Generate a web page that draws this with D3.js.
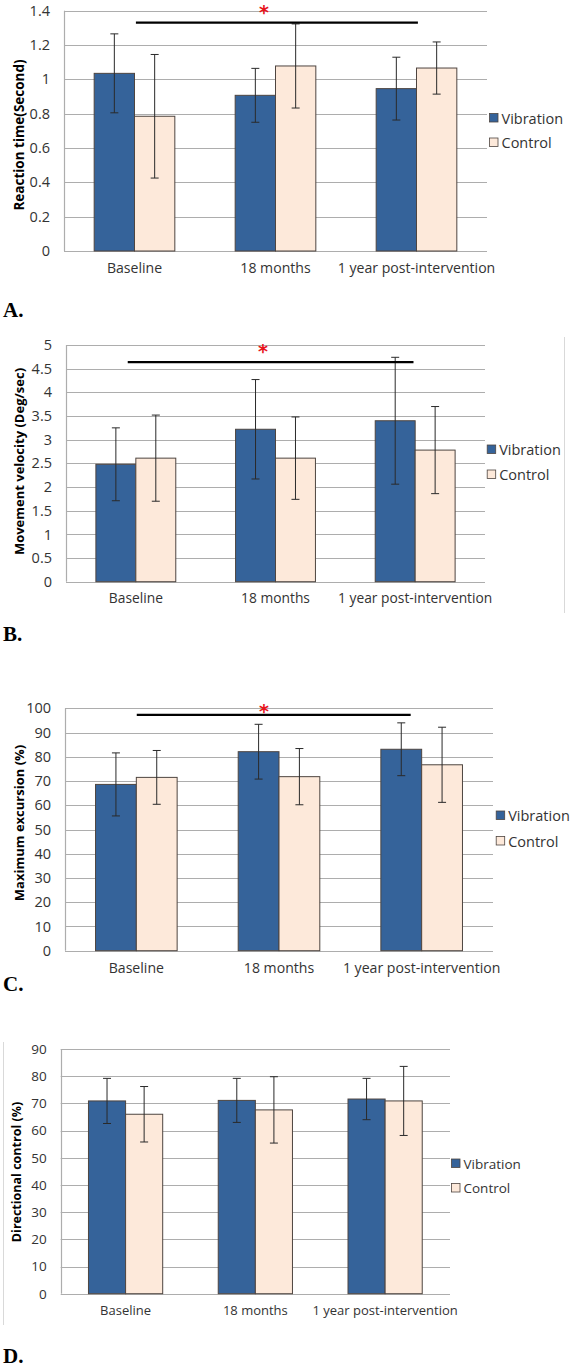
<!DOCTYPE html>
<html>
<head>
<meta charset="utf-8">
<script src="https://cdn.jsdelivr.net/npm/d3@7"></script>
<style>
  html, body { margin: 0; padding: 0; background: #fff; }
  svg { display: block; }
</style>
</head>
<body>
<script>
// ---------------- DATA ----------------
const categories = ["Baseline", "18 months", "1 year post-intervention"];
const seriesNames = ["Vibration", "Control"];

// A. Reaction time (Second)
const rtVibration = [1.035, 0.907, 0.946];
const rtVibrationErr = [0.23, 0.157, 0.183];
const rtControl = [0.785, 1.078, 1.066];
const rtControlErr = [0.36, 0.245, 0.152];
const rtTicks = [0, 0.2, 0.4, 0.6, 0.8, 1, 1.2, 1.4];
const rtTickLabels = ["0", "0.2", "0.4", "0.6", "0.8", "1", "1.2", "1.4"];
const rtSigLevel = 1.33;

// B. Movement velocity (Deg/sec)
const mvVibration = [2.48, 3.22, 3.40];
const mvVibrationErr = [0.77, 1.05, 1.34];
const mvControl = [2.61, 2.61, 2.78];
const mvControlErr = [0.91, 0.87, 0.92];
const mvTicks = [0, 0.5, 1, 1.5, 2, 2.5, 3, 3.5, 4, 4.5, 5];
const mvTickLabels = ["0", "0.5", "1", "1.5", "2", "2.5", "3", "3.5", "4", "4.5", "5"];
const mvSigLevel = 4.64;

// C. Maximum excursion (%)
const meVibration = [68.6, 82.1, 83.1];
const meVibrationErr = [13.0, 11.3, 10.9];
const meControl = [71.5, 71.8, 76.7];
const meControlErr = [11.1, 11.6, 15.5];
const meTicks = [0, 10, 20, 30, 40, 50, 60, 70, 80, 90, 100];
const meTickLabels = ["0", "10", "20", "30", "40", "50", "60", "70", "80", "90", "100"];
const meSigLevel = 97.3;

// D. Directional control (%)
const dcVibration = [70.9, 71.1, 71.6];
const dcVibrationErr = [8.3, 8.1, 7.6];
const dcControl = [66.0, 67.6, 70.9];
const dcControlErr = [10.2, 12.2, 12.7];
const dcTicks = [0, 10, 20, 30, 40, 50, 60, 70, 80, 90];
const dcTickLabels = ["0", "10", "20", "30", "40", "50", "60", "70", "80", "90"];

const panelLetters = ["A.", "B.", "C.", "D."];
const yTitles = ["Reaction time(Second)", "Movement velocity (Deg/sec)", "Maximum excursion (%)", "Directional control (%)"];

// ---------------- STYLE / LAYOUT ----------------
const W = 572, H = 1369;
const COL_VIB = "#35639a";
const COL_CTRL = "#fde9da";
const COL_OUTLINE = "#4e4540";
const COL_GRID = "#adadad";
const COL_TEXT = "#333333";
const FONT = "'Open Sans', 'Noto Sans', sans-serif";

const svg = d3.select("body").append("svg").attr("width", W).attr("height", H);

const panels = [
  { vib: rtVibration, vibErr: rtVibrationErr, ctrl: rtControl, ctrlErr: rtControlErr,
    ticks: rtTicks, tickLabels: rtTickLabels, sig: rtSigLevel,
    box: { left: 64, right: 487, top: 10.7, bottom: 251 },
    sigX: [0.01, 0.01], starX: 264, starDy: -14,
    title: { x: 19, y: 135 }, legend: { x: 489, y: [118, 142.5] },
    letterY: 317, fs: 14.5, xfs: 14.1, tfs: 13.5, lfs: 14.5 },
  { vib: mvVibration, vibErr: mvVibrationErr, ctrl: mvControl, ctrlErr: mvControlErr,
    ticks: mvTicks, tickLabels: mvTickLabels, sig: mvSigLevel,
    box: { left: 66, right: 485, top: 345, bottom: 581.7 },
    sigX: [-0.058, -0.012], starX: 263, starDy: -14,
    title: { x: 19, y: 461.5 }, legend: { x: 486.7, y: [449.5, 474.5] },
    letterY: 641, fs: 14.5, xfs: 13.8, tfs: 13, lfs: 14.5, rightBorder: { x: 564, y0: 337, y1: 613 } },
  { vib: meVibration, vibErr: meVibrationErr, ctrl: meControl, ctrlErr: meControlErr,
    ticks: meTicks, tickLabels: meTickLabels, sig: meSigLevel,
    box: { left: 65, right: 493, top: 708.3, bottom: 950.7 },
    sigX: [0.003, -0.077], starX: 264, starDy: -7,
    title: { x: 18.5, y: 823 }, legend: { x: 495.7, y: [815.5, 841] },
    letterY: 991, fs: 14.5, xfs: 14.1, tfs: 13, lfs: 14.5 },
  { vib: dcVibration, vibErr: dcVibrationErr, ctrl: dcControl, ctrlErr: dcControlErr,
    ticks: dcTicks, tickLabels: dcTickLabels, sig: null,
    box: { left: 60.7, right: 450, top: 1049, bottom: 1293.7 },
    title: { x: 16.7, y: 1172 }, legend: { x: 451, y: [1163.5, 1188] },
    letterY: 1363, fs: 13.5, xfs: 13, tfs: 12.5, lfs: 13.5, leftBorder: { x: 3, y0: 1042, y1: 1325 } }
];

panels.forEach((p, pi) => {
  const g = svg.append("g");
  const b = p.box;
  const x = d3.scaleBand().domain(categories).range([b.left, b.right]).paddingInner(0).paddingOuter(0);
  const yMax = p.ticks[p.ticks.length - 1];
  const y = d3.scaleLinear().domain([0, yMax]).range([b.bottom, b.top]);
  const bw = x.bandwidth() * 0.286;
  const center = c => x(c) + x.bandwidth() / 2;

  // gridlines
  g.append("g").selectAll("line").data(p.ticks).join("line")
    .attr("x1", b.left).attr("x2", b.right)
    .attr("y1", d => Math.round(y(d)) + 0.5).attr("y2", d => Math.round(y(d)) + 0.5)
    .attr("stroke", COL_GRID).attr("stroke-width", 1.2);

  // left axis line
  g.append("line").attr("x1", Math.round(b.left) + 0.5).attr("x2", Math.round(b.left) + 0.5)
    .attr("y1", y(yMax)).attr("y2", y(0)).attr("stroke", COL_GRID).attr("stroke-width", 1.2);

  // y tick labels via axis
  const yAxis = d3.axisLeft(y).tickValues(p.ticks).tickSize(0).tickPadding(14)
    .tickFormat((d, i) => p.tickLabels[i]);
  const ya = g.append("g").attr("transform", `translate(${b.left},0)`).call(yAxis);
  ya.select(".domain").remove();
  ya.selectAll("text").attr("font-family", FONT).attr("font-size", p.fs).attr("fill", COL_TEXT);

  // x labels via axis
  const xAxis = d3.axisBottom(x).tickSize(0).tickPadding(12);
  const xa = g.append("g").attr("transform", `translate(0,${b.bottom})`).call(xAxis);
  xa.select(".domain").remove();
  xa.selectAll("text").attr("font-family", FONT).attr("font-size", p.xfs).attr("fill", COL_TEXT);

  // bars
  const rows = categories.map((c, i) => ({ c, v: p.vib[i], ve: p.vibErr[i], k: p.ctrl[i], ke: p.ctrlErr[i] }));
  const bars = [];
  rows.forEach(r => {
    bars.push({ x0: center(r.c) - bw, val: r.v, err: r.ve, fill: COL_VIB });
    bars.push({ x0: center(r.c), val: r.k, err: r.ke, fill: COL_CTRL });
  });
  g.append("g").selectAll("rect").data(bars).join("rect")
    .attr("x", d => d.x0).attr("width", bw)
    .attr("y", d => y(d.val)).attr("height", d => y(0) - y(d.val))
    .attr("fill", d => d.fill).attr("stroke", COL_OUTLINE).attr("stroke-width", 1);

  // error bars
  const eg = g.append("g").attr("stroke", "#2a2a2a").attr("stroke-width", 1);
  bars.forEach(d => {
    const cx = d.x0 + bw / 2;
    const y1 = y(d.val + d.err), y2 = y(d.val - d.err);
    eg.append("line").attr("x1", cx).attr("x2", cx).attr("y1", y1).attr("y2", y2);
    eg.append("line").attr("x1", cx - 4).attr("x2", cx + 4).attr("y1", y1).attr("y2", y1);
    eg.append("line").attr("x1", cx - 4).attr("x2", cx + 4).attr("y1", y2).attr("y2", y2);
  });

  // significance line and asterisk
  if (p.sig !== null) {
    const xs = center(categories[0]) + p.sigX[0] * x.bandwidth();
    const xe = center(categories[2]) + p.sigX[1] * x.bandwidth();
    g.append("line").attr("x1", xs).attr("x2", xe).attr("y1", y(p.sig)).attr("y2", y(p.sig))
      .attr("stroke", "#000").attr("stroke-width", 2.2);
    g.append("text").attr("x", p.starX).attr("y", y(p.sig) + p.starDy + 10)
      .attr("text-anchor", "middle").attr("font-family", "'DejaVu Sans', sans-serif")
      .attr("font-size", 19).attr("font-weight", "bold").attr("fill", "#e8141b").text("*");
  }

  // y title
  g.append("text").attr("transform", `translate(${p.title.x},${p.title.y}) rotate(-90)`)
    .attr("text-anchor", "middle").attr("dominant-baseline", "central")
    .attr("font-family", FONT).attr("font-weight", "bold").attr("font-size", p.tfs)
    .attr("fill", "#000").text(yTitles[pi]);

  // legend
  const lg = g.append("g");
  seriesNames.forEach((s, i) => {
    const ly = p.legend.y[i];
    lg.append("rect").attr("x", p.legend.x + 0.5).attr("y", ly - 4.5).attr("width", 8.5).attr("height", 8.5)
      .attr("fill", i === 0 ? COL_VIB : COL_CTRL).attr("stroke", COL_OUTLINE).attr("stroke-width", 0.8);
    lg.append("text").attr("x", p.legend.x + 12.5).attr("y", ly).attr("dominant-baseline", "central")
      .attr("font-family", FONT).attr("font-size", p.lfs).attr("fill", COL_TEXT).text(s);
  });

  // frame borders partly visible
  if (p.rightBorder) {
    g.append("line").attr("x1", p.rightBorder.x + 0.5).attr("x2", p.rightBorder.x + 0.5)
      .attr("y1", p.rightBorder.y0).attr("y2", p.rightBorder.y1).attr("stroke", "#d9d9d9");
  }
  if (p.leftBorder) {
    g.append("line").attr("x1", p.leftBorder.x + 0.5).attr("x2", p.leftBorder.x + 0.5)
      .attr("y1", p.leftBorder.y0).attr("y2", p.leftBorder.y1).attr("stroke", "#d9d9d9");
  }

  // panel letter
  svg.append("text").attr("x", 3).attr("y", p.letterY)
    .attr("font-family", "'Liberation Serif', 'Times New Roman', serif").attr("font-weight", "bold")
    .attr("font-size", 21).attr("fill", "#000").text(panelLetters[pi]);
});
</script>
</body>
</html>
